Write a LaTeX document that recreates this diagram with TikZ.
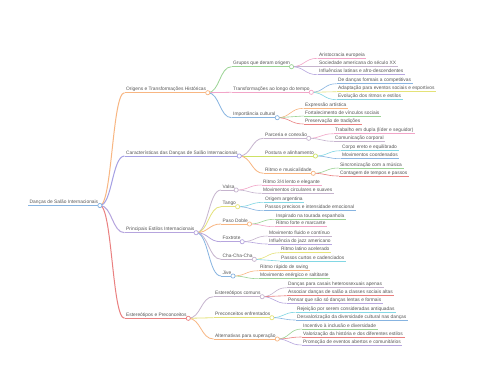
\documentclass[tikz,border=0pt]{standalone}
\usepackage{fontspec}
\setmainfont{Liberation Sans}
\usetikzlibrary{calc}
\definecolor{ctext}{RGB}{85,85,85}
\definecolor{cblue}{RGB}{135,180,225}
\definecolor{corange}{RGB}{248,182,130}
\definecolor{cred}{RGB}{234,128,128}
\definecolor{cpurple}{RGB}{182,165,222}
\definecolor{cviolet}{RGB}{165,160,228}
\definecolor{cgreen}{RGB}{155,212,148}
\definecolor{cpink}{RGB}{242,165,200}
\definecolor{cyellow}{RGB}{228,226,120}
\definecolor{ccyan}{RGB}{130,215,228}
\definecolor{cmauve}{RGB}{198,180,206}
\definecolor{clime}{RGB}{205,225,100}
\tikzset{
  mmtext/.style={anchor=south west, inner xsep=1.5pt, inner ysep=0.6pt,
    text height=3.6pt, text depth=1.1pt, font=\fontsize{4.85}{6}\selectfont, text=ctext},
}
\newcommand\mmnode[5]{\node[mmtext] (#1) at (#2) {#3};
  \draw[#4,line width=#5] (#1.south west) -- (#1.south east);}
\newcommand\mmlink[4]{\draw[#3,line width=#4] let \p1=(#1.south east), \p2=(#2.south west), \n1={(\x2-\x1)/2} in (\p1) .. controls +(\n1,0) and +(-\n1,0) .. (\p2);}
\newcommand\mmdot[3]{\draw[#2,line width=#3,fill=white] (#1.south east) circle (2.1pt);}
\begin{document}
\begin{tikzpicture}[x=1pt,y=-1pt]
\useasboundingbox[fill=white] (0,0) rectangle (480,384);
% root
\mmnode{root}{28,205.5}{Danças de Salão Internacionais}{cblue}{1.6}
% level 1
\mmnode{o}{124.5,92.7}{Origens e Transformações Históricas}{corange}{1.0}
\mmnode{c}{124.5,156}{Características das Danças de Salão Internacionais}{cviolet}{1.0}
\mmnode{p}{124.5,232.7}{Principais Estilos Internacionais}{cpurple}{1.0}
\mmnode{e}{124.5,318.3}{Estereótipos e Preconceitos}{cred}{1.0}
% level 2 origens
\mmnode{o1}{231.5,66.7}{Grupos que deram origem}{cgreen}{0.8}
\mmnode{o2}{231.5,92.3}{Transformações ao longo do tempo}{cpink}{0.8}
\mmnode{o3}{231.5,117.7}{Importância cultural}{cblue}{0.8}
\mmnode{o1a}{317.5,58.3}{Aristocracia europeia}{cpink}{0.6}
\mmnode{o1b}{317.5,66.7}{Sociedade americana do século XX}{cmauve}{0.6}
\mmnode{o1c}{317.5,74.7}{Influências latinas e afro-descendentes}{cpurple}{0.6}
\mmnode{o2a}{336.5,83.7}{De danças formais a competitivas}{cblue}{0.6}
\mmnode{o2b}{336.5,91.7}{Adaptação para eventos sociais e esportivos}{cyellow}{0.6}
\mmnode{o2c}{336.5,99.7}{Evolução dos ritmos e estilos}{ccyan}{0.6}
\mmnode{o3a}{303.5,108.3}{Expressão artística}{corange}{0.6}
\mmnode{o3b}{303.5,116}{Fortalecimento de vínculos sociais}{cgreen}{0.6}
\mmnode{o3c}{303.5,124}{Preservação de tradições}{cred}{0.6}
% level 2 caracteristicas
\mmnode{c1}{263.5,138.3}{Parceria e conexão}{cmauve}{0.8}
\mmnode{c2}{263.5,156}{Postura e alinhamento}{clime}{0.8}
\mmnode{c3}{263.5,173.3}{Ritmo e musicalidade}{corange}{0.8}
\mmnode{c1a}{333.5,133.7}{Trabalho em dupla (líder e seguidor)}{cpink}{0.6}
\mmnode{c1b}{333.5,141.3}{Comunicação corporal}{cmauve}{0.6}
\mmnode{c2a}{340.5,150.7}{Corpo ereto e equilibrado}{ccyan}{0.6}
\mmnode{c2b}{340.5,158.7}{Movimentos coordenados}{cblue}{0.6}
\mmnode{c3a}{338.5,168}{Sincronização com a música}{cgreen}{0.6}
\mmnode{c3b}{338.5,176}{Contagem de tempos e passos}{cred}{0.6}
% level 2 principais
\mmnode{p1}{221,190}{Valsa}{cmauve}{0.8}
\mmnode{p2}{221,206.7}{Tango}{cyellow}{0.8}
\mmnode{p3}{221,224}{Paso Doble}{corange}{0.8}
\mmnode{p4}{221,241.7}{Foxtrote}{cpurple}{0.8}
\mmnode{p5}{221,259.3}{Cha-Cha-Cha}{cmauve}{0.8}
\mmnode{p6}{221,276}{Jive}{cblue}{0.8}
\mmnode{p1a}{261.5,185}{Ritmo 3/4 lento e elegante}{cpink}{0.6}
\mmnode{p1b}{261.5,193.3}{Movimentos circulares e suaves}{cmauve}{0.6}
\mmnode{p2a}{263.5,202.3}{Origem argentina}{ccyan}{0.6}
\mmnode{p2b}{263.5,210.7}{Passos precisos e intensidade emocional}{cblue}{0.6}
\mmnode{p3a}{274.5,219.3}{Inspirado na tourada espanhola}{cgreen}{0.6}
\mmnode{p3b}{274.5,226.7}{Ritmo forte e marcante}{cpink}{0.6}
\mmnode{p4a}{267.5,236}{Movimento fluido e contínuo}{cmauve}{0.6}
\mmnode{p4b}{267.5,244}{Influência do jazz americano}{cpurple}{0.6}
\mmnode{p5a}{279.5,252.7}{Ritmo latino acelerado}{cyellow}{0.6}
\mmnode{p5b}{279.5,261}{Passos curtos e cadenciados}{ccyan}{0.6}
\mmnode{p6a}{258.5,270.7}{Ritmo rápido de swing}{corange}{0.6}
\mmnode{p6b}{258.5,278.7}{Movimento enérgico e saltitante}{cgreen}{0.6}
% level 2 estereotipos
\mmnode{e1}{213.5,296.7}{Estereótipos comuns}{cmauve}{0.8}
\mmnode{e2}{213.5,317.7}{Preconceitos enfrentados}{cyellow}{0.8}
\mmnode{e3}{213.5,339}{Alternativas para superação}{corange}{0.8}
\mmnode{e1a}{286.5,287.7}{Danças para casais heterossexuais apenas}{cmauve}{0.6}
\mmnode{e1b}{286.5,295.7}{Associar danças de salão a classes sociais altas}{cred}{0.6}
\mmnode{e1c}{286.5,303.3}{Pensar que são só danças lentas e formais}{cpurple}{0.6}
\mmnode{e2a}{295.5,312.3}{Rejeição por serem consideradas antiquadas}{ccyan}{0.6}
\mmnode{e2b}{295.5,320}{Desvalorização da diversidade cultural nas danças}{cblue}{0.6}
\mmnode{e3a}{301.5,329}{Incentivo à inclusão e diversidade}{cgreen}{0.6}
\mmnode{e3b}{301.5,337}{Valorização da história e dos diferentes estilos}{cred}{0.6}
\mmnode{e3c}{301.5,345}{Promoção de eventos abertos e comunitários}{cpurple}{0.6}
% links
\mmlink{root}{o}{corange}{1.0}
\mmlink{root}{c}{cviolet}{1.0}
\mmlink{root}{p}{cpurple}{1.0}
\mmlink{root}{e}{cred}{1.0}
\mmlink{o}{o1}{cgreen}{0.8}
\mmlink{o}{o2}{cpink}{0.8}
\mmlink{o}{o3}{cblue}{0.8}
\mmlink{o1}{o1a}{cpink}{0.6}
\mmlink{o1}{o1b}{cmauve}{0.6}
\mmlink{o1}{o1c}{cpurple}{0.6}
\mmlink{o2}{o2a}{cblue}{0.6}
\mmlink{o2}{o2b}{cyellow}{0.6}
\mmlink{o2}{o2c}{ccyan}{0.6}
\mmlink{o3}{o3a}{corange}{0.6}
\mmlink{o3}{o3b}{cgreen}{0.6}
\mmlink{o3}{o3c}{cred}{0.6}
\mmlink{c}{c1}{cmauve}{0.8}
\mmlink{c}{c2}{clime}{0.8}
\mmlink{c}{c3}{corange}{0.8}
\mmlink{c1}{c1a}{cpink}{0.6}
\mmlink{c1}{c1b}{cmauve}{0.6}
\mmlink{c2}{c2a}{ccyan}{0.6}
\mmlink{c2}{c2b}{cblue}{0.6}
\mmlink{c3}{c3a}{cgreen}{0.6}
\mmlink{c3}{c3b}{cred}{0.6}
\mmlink{p}{p1}{cmauve}{0.8}
\mmlink{p}{p2}{cyellow}{0.8}
\mmlink{p}{p3}{corange}{0.8}
\mmlink{p}{p4}{cpurple}{0.8}
\mmlink{p}{p5}{cmauve}{0.8}
\mmlink{p}{p6}{cblue}{0.8}
\mmlink{p1}{p1a}{cpink}{0.6}
\mmlink{p1}{p1b}{cmauve}{0.6}
\mmlink{p2}{p2a}{ccyan}{0.6}
\mmlink{p2}{p2b}{cblue}{0.6}
\mmlink{p3}{p3a}{cgreen}{0.6}
\mmlink{p3}{p3b}{cpink}{0.6}
\mmlink{p4}{p4a}{cmauve}{0.6}
\mmlink{p4}{p4b}{cpurple}{0.6}
\mmlink{p5}{p5a}{cyellow}{0.6}
\mmlink{p5}{p5b}{ccyan}{0.6}
\mmlink{p6}{p6a}{corange}{0.6}
\mmlink{p6}{p6b}{cgreen}{0.6}
\mmlink{e}{e1}{cmauve}{0.8}
\mmlink{e}{e2}{cyellow}{0.8}
\mmlink{e}{e3}{corange}{0.8}
\mmlink{e1}{e1a}{cmauve}{0.6}
\mmlink{e1}{e1b}{cred}{0.6}
\mmlink{e1}{e1c}{cpurple}{0.6}
\mmlink{e2}{e2a}{ccyan}{0.6}
\mmlink{e2}{e2b}{cblue}{0.6}
\mmlink{e3}{e3a}{cgreen}{0.6}
\mmlink{e3}{e3b}{cred}{0.6}
\mmlink{e3}{e3c}{cpurple}{0.6}
% dots
\mmdot{root}{cblue}{0.8}
\mmdot{o}{corange}{0.7}
\mmdot{c}{cviolet}{0.7}
\mmdot{p}{cpurple}{0.7}
\mmdot{e}{cred}{0.7}
\mmdot{o1}{cgreen}{0.7}
\mmdot{o2}{cpink}{0.7}
\mmdot{o3}{cblue}{0.7}
\mmdot{c1}{cmauve}{0.7}
\mmdot{c2}{clime}{0.7}
\mmdot{c3}{corange}{0.7}
\mmdot{p1}{cmauve}{0.7}
\mmdot{p2}{cyellow}{0.7}
\mmdot{p3}{corange}{0.7}
\mmdot{p4}{cpurple}{0.7}
\mmdot{p5}{cmauve}{0.7}
\mmdot{p6}{cblue}{0.7}
\mmdot{e1}{cmauve}{0.7}
\mmdot{e2}{cyellow}{0.7}
\mmdot{e3}{corange}{0.7}
\end{tikzpicture}
\end{document}
